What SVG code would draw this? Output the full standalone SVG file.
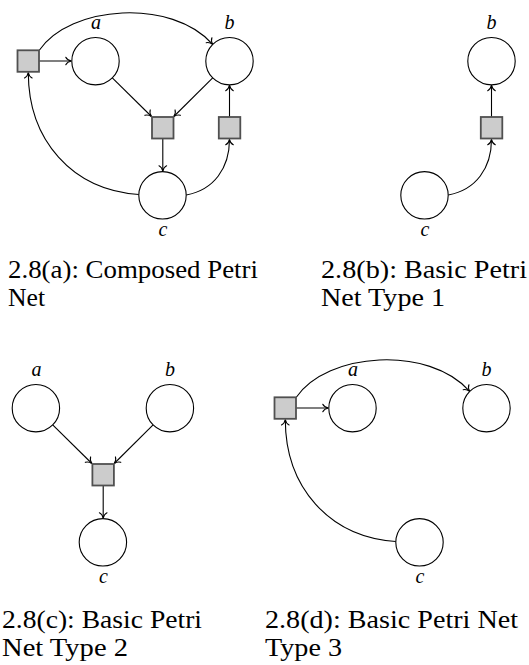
<svg xmlns="http://www.w3.org/2000/svg" width="529" height="665" viewBox="0 0 529 665">
<style>
.place{fill:#fff;stroke:#000;stroke-width:1.1}
.trans{fill:#cccccc;stroke:#505050;stroke-width:1.8}
.arc{fill:none;stroke:#000;stroke-width:1.1;marker-end:url(#arr)}
.lbl{font-style:italic;font-size:20px;text-anchor:middle;fill:#000}
.cap{font-size:24.5px;fill:#000}
</style>
<defs>
<marker id="arr" markerUnits="userSpaceOnUse" orient="auto" refX="0" refY="0" markerWidth="10" markerHeight="10" overflow="visible">
<path d="M-5.5,-3.8 C-4.5,-1.6 -1.8,-0.4 0,0 C-1.8,0.4 -4.5,1.6 -5.5,3.8" fill="none" stroke="#000" stroke-width="1.1" stroke-linecap="round"/>
</marker>
</defs>

<!-- (a) Composed Petri Net -->
<g id="fig-a">
<g id="a-connectors">
<path class="arc" d="M39.3,61 L71.3,61"/>
<path class="arc" d="M39.3,50.3 C70,5 172,-2 212.7,44.4"/>
<path class="arc" d="M112.3,77.9 L151.5,116.5"/>
<path class="arc" d="M212.7,77.9 L173.8,116.5"/>
<path class="arc" d="M162.8,138.8 L162.8,171.2"/>
<path class="arc" d="M229.5,117 L229.5,85.2"/>
<path class="arc" d="M186.2,195 C214,190 229.5,168 229.5,139.3"/>
<path class="arc" d="M138.8,194.5 C72,190 28.3,140 28.3,72.5"/>
</g>
<g id="a-place-a"><circle class="place" cx="95.5" cy="61.2" r="23.7"/><text class="lbl" font-family="'Liberation Serif', serif" x="96" y="29">a</text></g>
<g id="a-place-b"><circle class="place" cx="229.5" cy="61.2" r="23.7"/><text class="lbl" font-family="'Liberation Serif', serif" x="229.5" y="29">b</text></g>
<g id="a-place-c"><circle class="place" cx="162.5" cy="195.3" r="23.7"/><text class="lbl" font-family="'Liberation Serif', serif" x="163" y="236">c</text></g>
<g id="a-trans-1"><rect class="trans" x="17.5" y="50.3" width="21.5" height="21.5"/></g>
<g id="a-trans-2"><rect class="trans" x="152" y="117" width="21.5" height="21.5"/></g>
<g id="a-trans-3"><rect class="trans" x="218.8" y="117" width="21.5" height="21.5"/></g>
</g>

<!-- (b) Basic Petri Net Type 1 -->
<g id="fig-b" transform="translate(262,0)">
<g id="b-connectors">
<path class="arc" d="M229.5,117 L229.5,85.2"/>
<path class="arc" d="M186.2,195 C214,190 229.5,168 229.5,139.3"/>
</g>
<g id="b-place-b"><circle class="place" cx="229.5" cy="61.2" r="23.7"/><text class="lbl" font-family="'Liberation Serif', serif" x="229.5" y="29">b</text></g>
<g id="b-place-c"><circle class="place" cx="162.5" cy="195.3" r="23.7"/><text class="lbl" font-family="'Liberation Serif', serif" x="163" y="236">c</text></g>
<g id="b-trans"><rect class="trans" x="218.8" y="117" width="21.5" height="21.5"/></g>
</g>

<!-- (c) Basic Petri Net Type 2 -->
<g id="fig-c" transform="translate(-59.6,347)">
<g id="c-connectors">
<path class="arc" d="M112.3,77.9 L151.5,116.5"/>
<path class="arc" d="M212.7,77.9 L173.8,116.5"/>
<path class="arc" d="M162.8,138.8 L162.8,171.2"/>
</g>
<g id="c-place-a"><circle class="place" cx="95.5" cy="61.2" r="23.7"/><text class="lbl" font-family="'Liberation Serif', serif" x="96" y="29">a</text></g>
<g id="c-place-b"><circle class="place" cx="229.5" cy="61.2" r="23.7"/><text class="lbl" font-family="'Liberation Serif', serif" x="229.5" y="29">b</text></g>
<g id="c-place-c"><circle class="place" cx="162.5" cy="195.3" r="23.7"/><text class="lbl" font-family="'Liberation Serif', serif" x="163" y="236">c</text></g>
<g id="c-trans"><rect class="trans" x="152" y="117" width="21.5" height="21.5"/></g>
</g>

<!-- (d) Basic Petri Net Type 3 -->
<g id="fig-d" transform="translate(257,347)">
<g id="d-connectors">
<path class="arc" d="M39.3,61 L71.3,61"/>
<path class="arc" d="M39.3,50.3 C70,5 172,-2 212.7,44.4"/>
<path class="arc" d="M138.8,194.5 C72,190 28.3,140 28.3,72.5"/>
</g>
<g id="d-place-a"><circle class="place" cx="95.5" cy="61.2" r="23.7"/><text class="lbl" font-family="'Liberation Serif', serif" x="96" y="29">a</text></g>
<g id="d-place-b"><circle class="place" cx="229.5" cy="61.2" r="23.7"/><text class="lbl" font-family="'Liberation Serif', serif" x="229.5" y="29">b</text></g>
<g id="d-place-c"><circle class="place" cx="162.5" cy="195.3" r="23.7"/><text class="lbl" font-family="'Liberation Serif', serif" x="163" y="236">c</text></g>
<g id="d-trans"><rect class="trans" x="17.5" y="50.3" width="21.5" height="21.5"/></g>
</g>

<!-- captions -->
<g id="captions" font-family="'Liberation Serif', 'Times New Roman', serif">
<text class="cap" x="8" y="278" textLength="250" lengthAdjust="spacingAndGlyphs">2.8(a): Composed Petri</text>
<text class="cap" x="8" y="306" textLength="37" lengthAdjust="spacingAndGlyphs">Net</text>
<text class="cap" x="321" y="278" textLength="206" lengthAdjust="spacingAndGlyphs">2.8(b): Basic Petri</text>
<text class="cap" x="321" y="306" textLength="124" lengthAdjust="spacingAndGlyphs">Net Type 1</text>
<text class="cap" x="2" y="628" textLength="200" lengthAdjust="spacingAndGlyphs">2.8(c): Basic Petri</text>
<text class="cap" x="2" y="656" textLength="126" lengthAdjust="spacingAndGlyphs">Net Type 2</text>
<text class="cap" x="265" y="628" textLength="253" lengthAdjust="spacingAndGlyphs">2.8(d): Basic Petri Net</text>
<text class="cap" x="265" y="656" textLength="77" lengthAdjust="spacingAndGlyphs">Type 3</text>
</g>
</svg>
